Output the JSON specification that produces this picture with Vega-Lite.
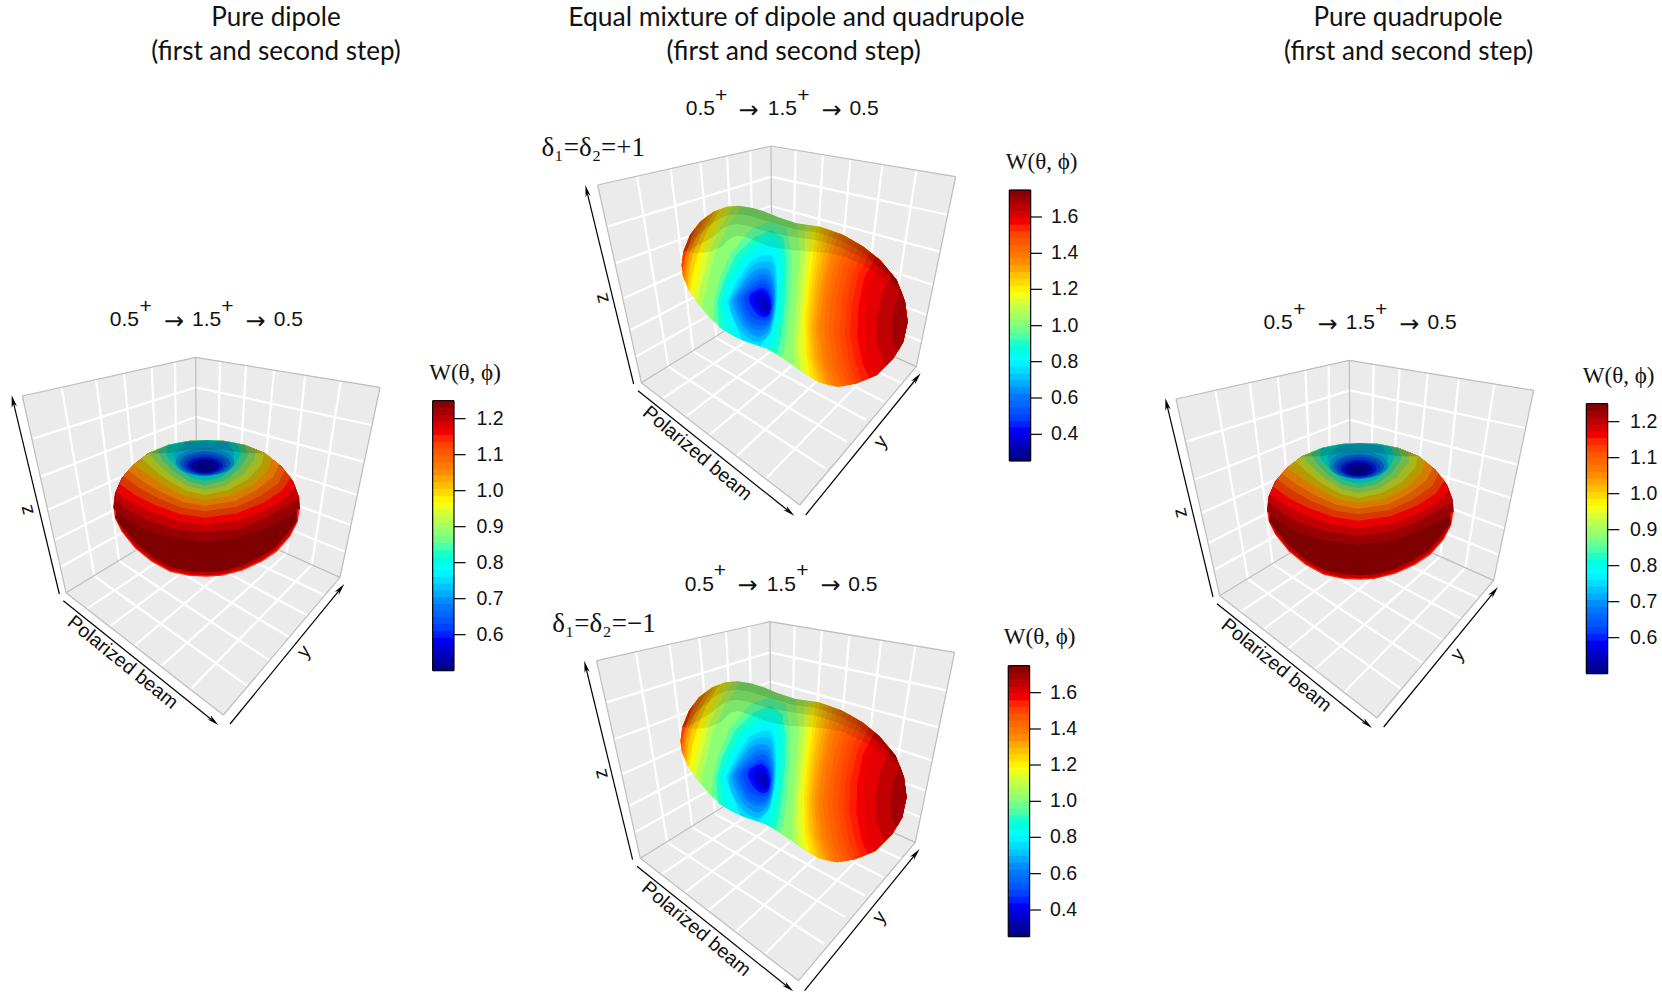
{"$schema":"https://vega.github.io/schema/vega-lite/v6.json","description":"Angular distributions W(theta,phi) for dipole, mixed and quadrupole steps","padding":0,"autosize":"none","width":1662,"height":1001,"background":"white","config":{"view":{"stroke":null}},
"datasets":{
"wall1":[{"x":67,"y":348},{"x":587,"y":232},{"x":1140,"y":322},{"x":1020,"y":892},{"x":670,"y":1305},{"x":198,"y":938}],
"wall2":[{"x":233,"y":315},{"x":753,"y":198},{"x":1307,"y":290},{"x":1189,"y":860},{"x":839,"y":1275},{"x":364,"y":908}],
"grid1":[{"x":185,"y":322,"x2":283,"y2":888},{"x":288,"y":297,"x2":357,"y2":843},{"x":372,"y":278,"x2":420,"y2":805},{"x":455,"y":260,"x2":478,"y2":770},{"x":525,"y":245,"x2":530,"y2":737},{"x":100,"y":475,"x2":587,"y2":322},{"x":122,"y":590,"x2":587,"y2":410},{"x":143,"y":690,"x2":588,"y2":490},{"x":165,"y":780,"x2":588,"y2":565},{"x":183,"y":860,"x2":589,"y2":635},{"x":660,"y":245,"x2":650,"y2":728},{"x":738,"y":258,"x2":710,"y2":755},{"x":822,"y":273,"x2":775,"y2":785},{"x":915,"y":290,"x2":860,"y2":820},{"x":1022,"y":305,"x2":935,"y2":855},{"x":587,"y":322,"x2":1115,"y2":435},{"x":587,"y":410,"x2":1090,"y2":545},{"x":588,"y":490,"x2":1072,"y2":645},{"x":588,"y":565,"x2":1052,"y2":735},{"x":589,"y":635,"x2":1035,"y2":815},{"x":283,"y":888,"x2":743,"y2":1218},{"x":357,"y":843,"x2":810,"y2":1142},{"x":420,"y":805,"x2":869,"y2":1072},{"x":478,"y":770,"x2":924,"y2":1007},{"x":530,"y":737,"x2":973,"y2":945},{"x":262,"y":985,"x2":650,"y2":728},{"x":328,"y":1040,"x2":710,"y2":755},{"x":402,"y":1098,"x2":775,"y2":785},{"x":482,"y":1160,"x2":860,"y2":820},{"x":572,"y":1228,"x2":935,"y2":855}],
"grid2":[{"x":351,"y":290,"x2":445,"y2":860},{"x":452,"y":268,"x2":520,"y2":815},{"x":541,"y":248,"x2":589,"y2":775},{"x":621,"y":228,"x2":648,"y2":738},{"x":691,"y":212,"x2":702,"y2":700},{"x":262,"y":440,"x2":753,"y2":290},{"x":287,"y":550,"x2":753,"y2":378},{"x":311,"y":655,"x2":754,"y2":455},{"x":332,"y":750,"x2":754,"y2":530},{"x":348,"y":830,"x2":755,"y2":600},{"x":827,"y":212,"x2":816,"y2":690},{"x":909,"y":225,"x2":879,"y2":715},{"x":991,"y":240,"x2":948,"y2":745},{"x":1087,"y":255,"x2":1023,"y2":780},{"x":1189,"y":272,"x2":1104,"y2":820},{"x":753,"y":290,"x2":1286,"y2":405},{"x":753,"y":378,"x2":1259,"y2":515},{"x":754,"y":455,"x2":1240,"y2":615},{"x":754,"y":530,"x2":1221,"y2":705},{"x":755,"y":600,"x2":1205,"y2":785},{"x":445,"y":860,"x2":916,"y2":1165},{"x":520,"y":815,"x2":980,"y2":1085},{"x":589,"y":775,"x2":1039,"y2":1020},{"x":648,"y":738,"x2":1093,"y2":965},{"x":702,"y":700,"x2":1146,"y2":910},{"x":429,"y":955,"x2":816,"y2":690},{"x":498,"y":1010,"x2":879,"y2":715},{"x":568,"y":1065,"x2":948,"y2":745},{"x":648,"y":1130,"x2":1023,"y2":780},{"x":739,"y":1195,"x2":1104,"y2":820}],
"edge1":[{"x":67,"y":348,"x2":587,"y2":232},{"x":587,"y":232,"x2":1140,"y2":322},{"x":67,"y":348,"x2":198,"y2":938},{"x":1140,"y":322,"x2":1020,"y2":892},{"x":198,"y":938,"x2":670,"y2":1305},{"x":1020,"y":892,"x2":670,"y2":1305},{"x":587,"y":232,"x2":590,"y2":700},{"x":590,"y":700,"x2":198,"y2":938},{"x":590,"y":700,"x2":1020,"y2":892}],
"edge2":[{"x":233,"y":315,"x2":753,"y2":198},{"x":753,"y":198,"x2":1307,"y2":290},{"x":233,"y":315,"x2":364,"y2":908},{"x":1307,"y":290,"x2":1189,"y2":860},{"x":364,"y":908,"x2":839,"y2":1275},{"x":1189,"y":860,"x2":839,"y2":1275},{"x":753,"y":198,"x2":756,"y2":665},{"x":756,"y":665,"x2":364,"y2":908},{"x":756,"y":665,"x2":1189,"y2":860}],
"ink1":[{"x":178,"y":942,"x2":41,"y2":371},{"x":690,"y":1332,"x2":1017,"y2":932},{"x":190,"y":962,"x2":635,"y2":1319},{"x":1362,"y":416,"x2":1397,"y2":416},{"x":1362,"y":524,"x2":1397,"y2":524},{"x":1362,"y":632,"x2":1397,"y2":632},{"x":1362,"y":740,"x2":1397,"y2":740},{"x":1362,"y":848,"x2":1397,"y2":848},{"x":1362,"y":956,"x2":1397,"y2":956},{"x":1362,"y":1064,"x2":1397,"y2":1064},{"x":1298,"y":362,"x2":1362,"y2":362},{"x":1298,"y":1172,"x2":1362,"y2":1172},{"x":1298,"y":362,"x2":1298,"y2":1172},{"x":1362,"y":362,"x2":1362,"y2":1172}],
"ink2":[{"x":341,"y":912,"x2":202,"y2":340},{"x":857,"y":1305,"x2":1186,"y2":900},{"x":354,"y":932,"x2":803,"y2":1291},{"x":1532,"y":411,"x2":1566,"y2":411},{"x":1532,"y":520,"x2":1566,"y2":520},{"x":1532,"y":628,"x2":1566,"y2":628},{"x":1532,"y":737,"x2":1566,"y2":737},{"x":1532,"y":845,"x2":1566,"y2":845},{"x":1532,"y":954,"x2":1566,"y2":954},{"x":1532,"y":1063,"x2":1566,"y2":1063},{"x":1468,"y":330,"x2":1532,"y2":330},{"x":1468,"y":1143,"x2":1532,"y2":1143},{"x":1468,"y":330,"x2":1468,"y2":1143},{"x":1532,"y":330,"x2":1532,"y2":1143}],
"head1":[{"g":1,"x":35,"y":346},{"g":1,"x":51,"y":379},{"g":1,"x":41,"y":371},{"g":1,"x":35,"y":383},{"g":2,"x":1033,"y":912},{"g":2,"x":1016,"y":945},{"g":2,"x":1017,"y":932},{"g":2,"x":1004,"y":935},{"g":3,"x":655,"y":1335},{"g":3,"x":632,"y":1306},{"g":3,"x":635,"y":1319},{"g":3,"x":622,"y":1318}],
"head2":[{"g":1,"x":196,"y":315},{"g":1,"x":212,"y":348},{"g":1,"x":202,"y":340},{"g":1,"x":197,"y":352},{"g":2,"x":1202,"y":880},{"g":2,"x":1185,"y":913},{"g":2,"x":1186,"y":900},{"g":2,"x":1173,"y":903},{"g":3,"x":823,"y":1307},{"g":3,"x":800,"y":1278},{"g":3,"x":803,"y":1291},{"g":3,"x":790,"y":1290}],
"lab1":[{"t":"1.2","x":1470,"y":416},{"t":"1.1","x":1470,"y":524},{"t":"1.0","x":1470,"y":632},{"t":"0.9","x":1470,"y":740},{"t":"0.8","x":1470,"y":848},{"t":"0.7","x":1470,"y":956},{"t":"0.6","x":1470,"y":1064},{"t":"z","x":80,"y":690,"a":256},{"t":"Polarized beam","x":368,"y":1147,"a":39},{"t":"y","x":912,"y":1115,"a":310}],
"lab2":[{"t":"1.6","x":1634,"y":411},{"t":"1.4","x":1634,"y":520},{"t":"1.2","x":1634,"y":628},{"t":"1.0","x":1634,"y":737},{"t":"0.8","x":1634,"y":845},{"t":"0.6","x":1634,"y":954},{"t":"0.4","x":1634,"y":1063},{"t":"z","x":246,"y":655,"a":256},{"t":"Polarized beam","x":532,"y":1120,"a":40},{"t":"y","x":1082,"y":1085,"a":308}],
"step1":[{"t":"0.5","x":373,"y":120},{"t":"+","x":437,"y":80},{"t":"1.5","x":620,"y":120},{"t":"+","x":682,"y":80},{"t":"0.5","x":865,"y":120}],
"arrow1":[{"t":"→","x":522,"y":125},{"t":"→","x":767,"y":125}],
"step2":[{"t":"0.5","x":541,"y":87},{"t":"+","x":603,"y":47},{"t":"1.5","x":787,"y":87},{"t":"+","x":850,"y":47},{"t":"0.5","x":1032,"y":87}],
"arrow2":[{"t":"→","x":686,"y":92},{"t":"→","x":935,"y":92}],
"wlab1":[{"t":"W(θ, ϕ)","x":1395,"y":278}],
"bar1":[{"w":0.509,"x":1298,"x2":1362,"y":1152,"y2":1172},{"w":0.528,"x":1298,"x2":1362,"y":1132,"y2":1154},{"w":0.547,"x":1298,"x2":1362,"y":1111,"y2":1134},{"w":0.566,"x":1298,"x2":1362,"y":1091,"y2":1113},{"w":0.584,"x":1298,"x2":1362,"y":1071,"y2":1093},{"w":0.603,"x":1298,"x2":1362,"y":1051,"y2":1073},{"w":0.622,"x":1298,"x2":1362,"y":1030,"y2":1053},{"w":0.641,"x":1298,"x2":1362,"y":1010,"y2":1032},{"w":0.659,"x":1298,"x2":1362,"y":990,"y2":1012},{"w":0.678,"x":1298,"x2":1362,"y":970,"y2":992},{"w":0.697,"x":1298,"x2":1362,"y":949,"y2":972},{"w":0.716,"x":1298,"x2":1362,"y":929,"y2":951},{"w":0.734,"x":1298,"x2":1362,"y":909,"y2":931},{"w":0.753,"x":1298,"x2":1362,"y":889,"y2":911},{"w":0.772,"x":1298,"x2":1362,"y":868,"y2":891},{"w":0.791,"x":1298,"x2":1362,"y":848,"y2":870},{"w":0.809,"x":1298,"x2":1362,"y":828,"y2":850},{"w":0.828,"x":1298,"x2":1362,"y":808,"y2":830},{"w":0.847,"x":1298,"x2":1362,"y":787,"y2":810},{"w":0.866,"x":1298,"x2":1362,"y":767,"y2":789},{"w":0.884,"x":1298,"x2":1362,"y":747,"y2":769},{"w":0.903,"x":1298,"x2":1362,"y":727,"y2":749},{"w":0.922,"x":1298,"x2":1362,"y":706,"y2":729},{"w":0.941,"x":1298,"x2":1362,"y":686,"y2":708},{"w":0.959,"x":1298,"x2":1362,"y":666,"y2":688},{"w":0.978,"x":1298,"x2":1362,"y":646,"y2":668},{"w":0.997,"x":1298,"x2":1362,"y":625,"y2":648},{"w":1.016,"x":1298,"x2":1362,"y":605,"y2":627},{"w":1.034,"x":1298,"x2":1362,"y":585,"y2":607},{"w":1.053,"x":1298,"x2":1362,"y":565,"y2":587},{"w":1.072,"x":1298,"x2":1362,"y":544,"y2":567},{"w":1.091,"x":1298,"x2":1362,"y":524,"y2":546},{"w":1.109,"x":1298,"x2":1362,"y":504,"y2":526},{"w":1.128,"x":1298,"x2":1362,"y":484,"y2":506},{"w":1.147,"x":1298,"x2":1362,"y":463,"y2":486},{"w":1.166,"x":1298,"x2":1362,"y":443,"y2":465},{"w":1.184,"x":1298,"x2":1362,"y":423,"y2":445},{"w":1.203,"x":1298,"x2":1362,"y":403,"y2":425},{"w":1.222,"x":1298,"x2":1362,"y":382,"y2":405},{"w":1.241,"x":1298,"x2":1362,"y":362,"y2":384}],
"bar2":[{"w":0.269,"x":1468,"x2":1532,"y":1123,"y2":1143},{"w":0.306,"x":1468,"x2":1532,"y":1102,"y2":1125},{"w":0.344,"x":1468,"x2":1532,"y":1082,"y2":1104},{"w":0.381,"x":1468,"x2":1532,"y":1062,"y2":1084},{"w":0.419,"x":1468,"x2":1532,"y":1041,"y2":1064},{"w":0.456,"x":1468,"x2":1532,"y":1021,"y2":1043},{"w":0.494,"x":1468,"x2":1532,"y":1001,"y2":1023},{"w":0.531,"x":1468,"x2":1532,"y":980,"y2":1003},{"w":0.569,"x":1468,"x2":1532,"y":960,"y2":982},{"w":0.606,"x":1468,"x2":1532,"y":940,"y2":962},{"w":0.644,"x":1468,"x2":1532,"y":919,"y2":942},{"w":0.681,"x":1468,"x2":1532,"y":899,"y2":921},{"w":0.719,"x":1468,"x2":1532,"y":879,"y2":901},{"w":0.756,"x":1468,"x2":1532,"y":858,"y2":881},{"w":0.794,"x":1468,"x2":1532,"y":838,"y2":860},{"w":0.831,"x":1468,"x2":1532,"y":818,"y2":840},{"w":0.869,"x":1468,"x2":1532,"y":797,"y2":820},{"w":0.906,"x":1468,"x2":1532,"y":777,"y2":799},{"w":0.944,"x":1468,"x2":1532,"y":757,"y2":779},{"w":0.981,"x":1468,"x2":1532,"y":737,"y2":759},{"w":1.019,"x":1468,"x2":1532,"y":716,"y2":739},{"w":1.056,"x":1468,"x2":1532,"y":696,"y2":718},{"w":1.094,"x":1468,"x2":1532,"y":676,"y2":698},{"w":1.131,"x":1468,"x2":1532,"y":655,"y2":678},{"w":1.169,"x":1468,"x2":1532,"y":635,"y2":657},{"w":1.206,"x":1468,"x2":1532,"y":615,"y2":637},{"w":1.244,"x":1468,"x2":1532,"y":594,"y2":617},{"w":1.281,"x":1468,"x2":1532,"y":574,"y2":596},{"w":1.319,"x":1468,"x2":1532,"y":554,"y2":576},{"w":1.356,"x":1468,"x2":1532,"y":533,"y2":556},{"w":1.394,"x":1468,"x2":1532,"y":513,"y2":535},{"w":1.431,"x":1468,"x2":1532,"y":493,"y2":515},{"w":1.469,"x":1468,"x2":1532,"y":472,"y2":495},{"w":1.506,"x":1468,"x2":1532,"y":452,"y2":474},{"w":1.544,"x":1468,"x2":1532,"y":432,"y2":454},{"w":1.581,"x":1468,"x2":1532,"y":411,"y2":434},{"w":1.619,"x":1468,"x2":1532,"y":391,"y2":413},{"w":1.656,"x":1468,"x2":1532,"y":371,"y2":393},{"w":1.694,"x":1468,"x2":1532,"y":350,"y2":373},{"w":1.731,"x":1468,"x2":1532,"y":330,"y2":352}],
"torus":[
{"g":1,"w":1.15,"x":340,"y":680},{"g":1,"w":1.15,"x":345,"y":640},{"g":1,"w":1.15,"x":365,"y":595},{"g":1,"w":1.15,"x":400,"y":555},{"g":1,"w":1.15,"x":445,"y":520},{"g":1,"w":1.15,"x":505,"y":495},{"g":1,"w":1.15,"x":565,"y":483},{"g":1,"w":1.15,"x":620,"y":480},{"g":1,"w":1.15,"x":675,"y":483},{"g":1,"w":1.15,"x":735,"y":495},{"g":1,"w":1.15,"x":795,"y":520},{"g":1,"w":1.15,"x":845,"y":560},{"g":1,"w":1.15,"x":880,"y":605},{"g":1,"w":1.15,"x":897,"y":650},{"g":1,"w":1.15,"x":900,"y":685},{"g":1,"w":1.15,"x":893,"y":725},{"g":1,"w":1.15,"x":870,"y":770},{"g":1,"w":1.15,"x":830,"y":815},{"g":1,"w":1.15,"x":785,"y":845},{"g":1,"w":1.15,"x":725,"y":872},{"g":1,"w":1.15,"x":665,"y":887},{"g":1,"w":1.15,"x":620,"y":890},{"g":1,"w":1.15,"x":565,"y":887},{"g":1,"w":1.15,"x":510,"y":875},{"g":1,"w":1.15,"x":455,"y":845},{"g":1,"w":1.15,"x":405,"y":805},{"g":1,"w":1.15,"x":365,"y":755},{"g":1,"w":1.15,"x":345,"y":715},
{"g":2,"w":1.2,"x":352,"y":650},{"g":2,"w":1.2,"x":620,"y":610},{"g":2,"w":1.2,"x":888,"y":655},{"g":2,"w":1.2,"x":892,"y":724},{"g":2,"w":1.2,"x":867,"y":768},{"g":2,"w":1.2,"x":827,"y":811},{"g":2,"w":1.2,"x":783,"y":841},{"g":2,"w":1.2,"x":724,"y":868},{"g":2,"w":1.2,"x":665,"y":883},{"g":2,"w":1.2,"x":620,"y":886},{"g":2,"w":1.2,"x":565,"y":883},{"g":2,"w":1.2,"x":511,"y":871},{"g":2,"w":1.2,"x":457,"y":841},{"g":2,"w":1.2,"x":407,"y":802},{"g":2,"w":1.2,"x":367,"y":752},{"g":2,"w":1.2,"x":346,"y":714},
{"g":3,"w":1.25,"x":352,"y":650},{"g":3,"w":1.25,"x":620,"y":610},{"g":3,"w":1.25,"x":888,"y":655},{"g":3,"w":1.25,"x":890,"y":721},{"g":3,"w":1.25,"x":862,"y":760},{"g":3,"w":1.25,"x":823,"y":803},{"g":3,"w":1.25,"x":779,"y":832},{"g":3,"w":1.25,"x":722,"y":859},{"g":3,"w":1.25,"x":665,"y":874},{"g":3,"w":1.25,"x":620,"y":877},{"g":3,"w":1.25,"x":566,"y":874},{"g":3,"w":1.25,"x":513,"y":862},{"g":3,"w":1.25,"x":460,"y":833},{"g":3,"w":1.25,"x":412,"y":794},{"g":3,"w":1.25,"x":370,"y":747},{"g":3,"w":1.25,"x":347,"y":712},
{"g":4,"w":1.23,"x":340,"y":685},{"g":4,"w":1.23,"x":375,"y":715},{"g":4,"w":1.23,"x":435,"y":750},{"g":4,"w":1.23,"x":515,"y":772},{"g":4,"w":1.23,"x":615,"y":785},{"g":4,"w":1.23,"x":715,"y":772},{"g":4,"w":1.23,"x":795,"y":745},{"g":4,"w":1.23,"x":860,"y":712},{"g":4,"w":1.23,"x":900,"y":685},{"g":4,"w":1.23,"x":897,"y":650},{"g":4,"w":1.23,"x":880,"y":605},{"g":4,"w":1.23,"x":845,"y":560},{"g":4,"w":1.23,"x":795,"y":520},{"g":4,"w":1.23,"x":735,"y":495},{"g":4,"w":1.23,"x":675,"y":483},{"g":4,"w":1.23,"x":620,"y":480},{"g":4,"w":1.23,"x":565,"y":483},{"g":4,"w":1.23,"x":505,"y":495},{"g":4,"w":1.23,"x":445,"y":520},{"g":4,"w":1.23,"x":400,"y":555},{"g":4,"w":1.23,"x":365,"y":595},{"g":4,"w":1.23,"x":345,"y":640},
{"g":5,"w":1.2,"x":342,"y":655},{"g":5,"w":1.2,"x":385,"y":690},{"g":5,"w":1.2,"x":445,"y":722},{"g":5,"w":1.2,"x":525,"y":747},{"g":5,"w":1.2,"x":615,"y":758},{"g":5,"w":1.2,"x":715,"y":746},{"g":5,"w":1.2,"x":795,"y":715},{"g":5,"w":1.2,"x":860,"y":678},{"g":5,"w":1.2,"x":898,"y":655},{"g":5,"w":1.2,"x":880,"y":605},{"g":5,"w":1.2,"x":845,"y":560},{"g":5,"w":1.2,"x":795,"y":520},{"g":5,"w":1.2,"x":735,"y":495},{"g":5,"w":1.2,"x":675,"y":483},{"g":5,"w":1.2,"x":620,"y":480},{"g":5,"w":1.2,"x":565,"y":483},{"g":5,"w":1.2,"x":505,"y":495},{"g":5,"w":1.2,"x":445,"y":520},{"g":5,"w":1.2,"x":400,"y":555},{"g":5,"w":1.2,"x":365,"y":595},
{"g":6,"w":1.17,"x":347,"y":635},{"g":6,"w":1.17,"x":395,"y":667},{"g":6,"w":1.17,"x":455,"y":697},{"g":6,"w":1.17,"x":535,"y":724},{"g":6,"w":1.17,"x":615,"y":735},{"g":6,"w":1.17,"x":715,"y":722},{"g":6,"w":1.17,"x":795,"y":690},{"g":6,"w":1.17,"x":855,"y":655},{"g":6,"w":1.17,"x":887,"y":620},{"g":6,"w":1.17,"x":845,"y":560},{"g":6,"w":1.17,"x":795,"y":520},{"g":6,"w":1.17,"x":735,"y":495},{"g":6,"w":1.17,"x":675,"y":483},{"g":6,"w":1.17,"x":620,"y":480},{"g":6,"w":1.17,"x":565,"y":483},{"g":6,"w":1.17,"x":505,"y":495},{"g":6,"w":1.17,"x":445,"y":520},{"g":6,"w":1.17,"x":400,"y":555},{"g":6,"w":1.17,"x":365,"y":595},
{"g":7,"w":1.13,"x":357,"y":610},{"g":7,"w":1.13,"x":405,"y":645},{"g":7,"w":1.13,"x":465,"y":675},{"g":7,"w":1.13,"x":540,"y":702},{"g":7,"w":1.13,"x":615,"y":713},{"g":7,"w":1.13,"x":710,"y":700},{"g":7,"w":1.13,"x":790,"y":668},{"g":7,"w":1.13,"x":845,"y":632},{"g":7,"w":1.13,"x":873,"y":593},{"g":7,"w":1.13,"x":845,"y":560},{"g":7,"w":1.13,"x":795,"y":520},{"g":7,"w":1.13,"x":735,"y":495},{"g":7,"w":1.13,"x":675,"y":483},{"g":7,"w":1.13,"x":620,"y":480},{"g":7,"w":1.13,"x":565,"y":483},{"g":7,"w":1.13,"x":505,"y":495},{"g":7,"w":1.13,"x":445,"y":520},{"g":7,"w":1.13,"x":400,"y":555},{"g":7,"w":1.13,"x":375,"y":583},
{"g":8,"w":1.09,"x":370,"y":588},{"g":8,"w":1.09,"x":415,"y":622},{"g":8,"w":1.09,"x":475,"y":655},{"g":8,"w":1.09,"x":545,"y":683},{"g":8,"w":1.09,"x":615,"y":694},{"g":8,"w":1.09,"x":710,"y":680},{"g":8,"w":1.09,"x":780,"y":648},{"g":8,"w":1.09,"x":835,"y":610},{"g":8,"w":1.09,"x":855,"y":570},{"g":8,"w":1.09,"x":795,"y":520},{"g":8,"w":1.09,"x":735,"y":495},{"g":8,"w":1.09,"x":675,"y":483},{"g":8,"w":1.09,"x":620,"y":480},{"g":8,"w":1.09,"x":565,"y":483},{"g":8,"w":1.09,"x":505,"y":495},{"g":8,"w":1.09,"x":445,"y":520},{"g":8,"w":1.09,"x":405,"y":550},
{"g":9,"w":1.05,"x":383,"y":570},{"g":9,"w":1.05,"x":430,"y":605},{"g":9,"w":1.05,"x":485,"y":637},{"g":9,"w":1.05,"x":550,"y":666},{"g":9,"w":1.05,"x":615,"y":677},{"g":9,"w":1.05,"x":705,"y":663},{"g":9,"w":1.05,"x":770,"y":630},{"g":9,"w":1.05,"x":820,"y":590},{"g":9,"w":1.05,"x":837,"y":553},{"g":9,"w":1.05,"x":795,"y":520},{"g":9,"w":1.05,"x":735,"y":495},{"g":9,"w":1.05,"x":675,"y":483},{"g":9,"w":1.05,"x":620,"y":480},{"g":9,"w":1.05,"x":565,"y":483},{"g":9,"w":1.05,"x":505,"y":495},{"g":9,"w":1.05,"x":445,"y":520},
{"g":10,"w":1.0,"x":400,"y":555},{"g":10,"w":1.0,"x":445,"y":585},{"g":10,"w":1.0,"x":495,"y":618},{"g":10,"w":1.0,"x":555,"y":648},{"g":10,"w":1.0,"x":615,"y":660},{"g":10,"w":1.0,"x":695,"y":646},{"g":10,"w":1.0,"x":760,"y":613},{"g":10,"w":1.0,"x":805,"y":570},{"g":10,"w":1.0,"x":815,"y":535},{"g":10,"w":1.0,"x":795,"y":520},{"g":10,"w":1.0,"x":735,"y":495},{"g":10,"w":1.0,"x":675,"y":483},{"g":10,"w":1.0,"x":620,"y":480},{"g":10,"w":1.0,"x":565,"y":483},{"g":10,"w":1.0,"x":505,"y":495},{"g":10,"w":1.0,"x":445,"y":520},
{"g":11,"w":0.95,"x":425,"y":535},{"g":11,"w":0.95,"x":460,"y":568},{"g":11,"w":0.95,"x":505,"y":602},{"g":11,"w":0.95,"x":560,"y":632},{"g":11,"w":0.95,"x":615,"y":645},{"g":11,"w":0.95,"x":685,"y":630},{"g":11,"w":0.95,"x":745,"y":598},{"g":11,"w":0.95,"x":785,"y":552},{"g":11,"w":0.95,"x":793,"y":520},{"g":11,"w":0.95,"x":735,"y":495},{"g":11,"w":0.95,"x":675,"y":483},{"g":11,"w":0.95,"x":620,"y":480},{"g":11,"w":0.95,"x":565,"y":483},{"g":11,"w":0.95,"x":505,"y":495},{"g":11,"w":0.95,"x":460,"y":513},
{"g":12,"w":0.9,"x":445,"y":520},{"g":12,"w":0.9,"x":475,"y":553},{"g":12,"w":0.9,"x":515,"y":588},{"g":12,"w":0.9,"x":565,"y":618},{"g":12,"w":0.9,"x":615,"y":630},{"g":12,"w":0.9,"x":675,"y":617},{"g":12,"w":0.9,"x":730,"y":583},{"g":12,"w":0.9,"x":765,"y":538},{"g":12,"w":0.9,"x":765,"y":508},{"g":12,"w":0.9,"x":735,"y":495},{"g":12,"w":0.9,"x":675,"y":483},{"g":12,"w":0.9,"x":620,"y":480},{"g":12,"w":0.9,"x":565,"y":483},{"g":12,"w":0.9,"x":505,"y":495},
{"g":13,"w":0.85,"x":470,"y":507},{"g":13,"w":0.85,"x":487,"y":540},{"g":13,"w":0.85,"x":523,"y":575},{"g":13,"w":0.85,"x":567,"y":605},{"g":13,"w":0.85,"x":615,"y":616},{"g":13,"w":0.85,"x":670,"y":603},{"g":13,"w":0.85,"x":715,"y":570},{"g":13,"w":0.85,"x":743,"y":528},{"g":13,"w":0.85,"x":735,"y":495},{"g":13,"w":0.85,"x":675,"y":483},{"g":13,"w":0.85,"x":620,"y":480},{"g":13,"w":0.85,"x":565,"y":483},{"g":13,"w":0.85,"x":505,"y":495},
{"g":14,"w":0.8,"x":500,"y":496},{"g":14,"w":0.8,"x":500,"y":528},{"g":14,"w":0.8,"x":530,"y":562},{"g":14,"w":0.8,"x":570,"y":592},{"g":14,"w":0.8,"x":615,"y":603},{"g":14,"w":0.8,"x":665,"y":591},{"g":14,"w":0.8,"x":703,"y":560},{"g":14,"w":0.8,"x":723,"y":522},{"g":14,"w":0.8,"x":710,"y":490},{"g":14,"w":0.8,"x":675,"y":483},{"g":14,"w":0.8,"x":620,"y":480},{"g":14,"w":0.8,"x":565,"y":483},{"g":14,"w":0.8,"x":530,"y":488},
{"g":15,"w":0.75,"x":518,"y":525},{"g":15,"w":0.75,"x":537,"y":553},{"g":15,"w":0.75,"x":573,"y":580},{"g":15,"w":0.75,"x":615,"y":590},{"g":15,"w":0.75,"x":660,"y":580},{"g":15,"w":0.75,"x":693,"y":552},{"g":15,"w":0.75,"x":705,"y":522},{"g":15,"w":0.75,"x":685,"y":487},{"g":15,"w":0.75,"x":620,"y":483},{"g":15,"w":0.75,"x":555,"y":487},
{"g":16,"w":0.72,"x":527,"y":546},{"g":16,"w":0.72,"x":553,"y":516},{"g":16,"w":0.72,"x":615,"y":504},{"g":16,"w":0.72,"x":677,"y":516},{"g":16,"w":0.72,"x":703,"y":546},{"g":16,"w":0.72,"x":677,"y":576},{"g":16,"w":0.72,"x":615,"y":588},{"g":16,"w":0.72,"x":553,"y":576},
{"g":17,"w":0.68,"x":539,"y":550},{"g":17,"w":0.68,"x":561,"y":525},{"g":17,"w":0.68,"x":615,"y":514},{"g":17,"w":0.68,"x":669,"y":525},{"g":17,"w":0.68,"x":691,"y":550},{"g":17,"w":0.68,"x":669,"y":575},{"g":17,"w":0.68,"x":615,"y":586},{"g":17,"w":0.68,"x":561,"y":575},
{"g":18,"w":0.64,"x":550,"y":553},{"g":18,"w":0.64,"x":569,"y":531},{"g":18,"w":0.64,"x":615,"y":522},{"g":18,"w":0.64,"x":661,"y":531},{"g":18,"w":0.64,"x":680,"y":553},{"g":18,"w":0.64,"x":661,"y":575},{"g":18,"w":0.64,"x":615,"y":584},{"g":18,"w":0.64,"x":569,"y":575},
{"g":19,"w":0.6,"x":561,"y":556},{"g":19,"w":0.6,"x":577,"y":538},{"g":19,"w":0.6,"x":615,"y":530},{"g":19,"w":0.6,"x":653,"y":538},{"g":19,"w":0.6,"x":669,"y":556},{"g":19,"w":0.6,"x":653,"y":574},{"g":19,"w":0.6,"x":615,"y":582},{"g":19,"w":0.6,"x":577,"y":574},
{"g":20,"w":0.56,"x":573,"y":558},{"g":20,"w":0.56,"x":585,"y":544},{"g":20,"w":0.56,"x":615,"y":538},{"g":20,"w":0.56,"x":645,"y":544},{"g":20,"w":0.56,"x":657,"y":558},{"g":20,"w":0.56,"x":645,"y":572},{"g":20,"w":0.56,"x":615,"y":578},{"g":20,"w":0.56,"x":585,"y":572},
{"g":21,"w":0.53,"x":587,"y":560},{"g":21,"w":0.53,"x":595,"y":550},{"g":21,"w":0.53,"x":615,"y":546},{"g":21,"w":0.53,"x":635,"y":550},{"g":21,"w":0.53,"x":643,"y":560},{"g":21,"w":0.53,"x":635,"y":570},{"g":21,"w":0.53,"x":615,"y":574},{"g":21,"w":0.53,"x":595,"y":570}],
"shade1":[
{"g":1,"x":357,"y":610},{"g":1,"x":405,"y":645},{"g":1,"x":465,"y":675},{"g":1,"x":540,"y":702},{"g":1,"x":615,"y":713},{"g":1,"x":710,"y":700},{"g":1,"x":790,"y":668},{"g":1,"x":845,"y":632},{"g":1,"x":873,"y":593},{"g":1,"x":845,"y":560},{"g":1,"x":795,"y":520},{"g":1,"x":735,"y":495},{"g":1,"x":675,"y":483},{"g":1,"x":620,"y":480},{"g":1,"x":565,"y":483},{"g":1,"x":505,"y":495},{"g":1,"x":445,"y":520},{"g":1,"x":400,"y":555},{"g":1,"x":375,"y":583},
{"g":2,"x":400,"y":555},{"g":2,"x":445,"y":585},{"g":2,"x":495,"y":618},{"g":2,"x":555,"y":648},{"g":2,"x":615,"y":660},{"g":2,"x":695,"y":646},{"g":2,"x":760,"y":613},{"g":2,"x":805,"y":570},{"g":2,"x":815,"y":535},{"g":2,"x":795,"y":520},{"g":2,"x":735,"y":495},{"g":2,"x":675,"y":483},{"g":2,"x":620,"y":480},{"g":2,"x":565,"y":483},{"g":2,"x":505,"y":495},{"g":2,"x":445,"y":520},
{"g":3,"x":445,"y":520},{"g":3,"x":505,"y":520},{"g":3,"x":565,"y":510},{"g":3,"x":620,"y":507},{"g":3,"x":675,"y":510},{"g":3,"x":735,"y":520},{"g":3,"x":795,"y":520},{"g":3,"x":735,"y":495},{"g":3,"x":675,"y":483},{"g":3,"x":620,"y":480},{"g":3,"x":565,"y":483},{"g":3,"x":505,"y":495}],
"peanut":[
{"g":1,"w":1.02,"x":485,"y":555},{"g":1,"w":1.02,"x":490,"y":515},{"g":1,"w":1.02,"x":510,"y":465},{"g":1,"w":1.02,"x":540,"y":425},{"g":1,"w":1.02,"x":580,"y":395},{"g":1,"w":1.02,"x":620,"y":380},{"g":1,"w":1.02,"x":655,"y":377},{"g":1,"w":1.02,"x":695,"y":383},{"g":1,"w":1.02,"x":735,"y":395},{"g":1,"w":1.02,"x":775,"y":412},{"g":1,"w":1.02,"x":830,"y":430},{"g":1,"w":1.02,"x":900,"y":440},{"g":1,"w":1.02,"x":970,"y":465},{"g":1,"w":1.02,"x":1030,"y":500},{"g":1,"w":1.02,"x":1080,"y":540},{"g":1,"w":1.02,"x":1130,"y":600},{"g":1,"w":1.02,"x":1155,"y":665},{"g":1,"w":1.02,"x":1163,"y":725},{"g":1,"w":1.02,"x":1150,"y":785},{"g":1,"w":1.02,"x":1120,"y":835},{"g":1,"w":1.02,"x":1070,"y":885},{"g":1,"w":1.02,"x":1010,"y":910},{"g":1,"w":1.02,"x":955,"y":920},{"g":1,"w":1.02,"x":900,"y":908},{"g":1,"w":1.02,"x":850,"y":878},{"g":1,"w":1.02,"x":795,"y":840},{"g":1,"w":1.02,"x":740,"y":805},{"g":1,"w":1.02,"x":680,"y":785},{"g":1,"w":1.02,"x":620,"y":755},{"g":1,"w":1.02,"x":570,"y":715},{"g":1,"w":1.02,"x":530,"y":665},{"g":1,"w":1.02,"x":500,"y":615},{"g":1,"w":1.02,"x":488,"y":585},
{"g":2,"w":1.08,"x":830,"y":431},{"g":2,"w":1.08,"x":840,"y":525},{"g":2,"w":1.08,"x":832,"y":625},{"g":2,"w":1.08,"x":825,"y":715},{"g":2,"w":1.08,"x":820,"y":800},{"g":2,"w":1.08,"x":822,"y":855},{"g":2,"w":1.08,"x":850,"y":878},{"g":2,"w":1.08,"x":900,"y":908},{"g":2,"w":1.08,"x":955,"y":920},{"g":2,"w":1.08,"x":1010,"y":910},{"g":2,"w":1.08,"x":1070,"y":885},{"g":2,"w":1.08,"x":1120,"y":835},{"g":2,"w":1.08,"x":1150,"y":785},{"g":2,"w":1.08,"x":1163,"y":725},{"g":2,"w":1.08,"x":1155,"y":665},{"g":2,"w":1.08,"x":1130,"y":600},{"g":2,"w":1.08,"x":1080,"y":540},{"g":2,"w":1.08,"x":1030,"y":500},{"g":2,"w":1.08,"x":970,"y":465},{"g":2,"w":1.08,"x":900,"y":440},
{"g":3,"w":1.14,"x":855,"y":436},{"g":3,"w":1.14,"x":855,"y":525},{"g":3,"w":1.14,"x":845,"y":625},{"g":3,"w":1.14,"x":838,"y":715},{"g":3,"w":1.14,"x":833,"y":805},{"g":3,"w":1.14,"x":840,"y":870},{"g":3,"w":1.14,"x":900,"y":908},{"g":3,"w":1.14,"x":955,"y":920},{"g":3,"w":1.14,"x":1010,"y":910},{"g":3,"w":1.14,"x":1070,"y":885},{"g":3,"w":1.14,"x":1120,"y":835},{"g":3,"w":1.14,"x":1150,"y":785},{"g":3,"w":1.14,"x":1163,"y":725},{"g":3,"w":1.14,"x":1155,"y":665},{"g":3,"w":1.14,"x":1130,"y":600},{"g":3,"w":1.14,"x":1080,"y":540},{"g":3,"w":1.14,"x":1030,"y":500},{"g":3,"w":1.14,"x":970,"y":465},{"g":3,"w":1.14,"x":900,"y":440},
{"g":4,"w":1.2,"x":878,"y":440},{"g":4,"w":1.2,"x":870,"y":525},{"g":4,"w":1.2,"x":858,"y":630},{"g":4,"w":1.2,"x":850,"y":725},{"g":4,"w":1.2,"x":850,"y":815},{"g":4,"w":1.2,"x":860,"y":884},{"g":4,"w":1.2,"x":900,"y":908},{"g":4,"w":1.2,"x":955,"y":920},{"g":4,"w":1.2,"x":1010,"y":910},{"g":4,"w":1.2,"x":1070,"y":885},{"g":4,"w":1.2,"x":1120,"y":835},{"g":4,"w":1.2,"x":1150,"y":785},{"g":4,"w":1.2,"x":1163,"y":725},{"g":4,"w":1.2,"x":1155,"y":665},{"g":4,"w":1.2,"x":1130,"y":600},{"g":4,"w":1.2,"x":1080,"y":540},{"g":4,"w":1.2,"x":1030,"y":500},{"g":4,"w":1.2,"x":970,"y":465},{"g":4,"w":1.2,"x":900,"y":440},
{"g":41,"w":1.23,"x":890,"y":440},{"g":41,"w":1.23,"x":879,"y":527},{"g":41,"w":1.23,"x":865,"y":632},{"g":41,"w":1.23,"x":856,"y":730},{"g":41,"w":1.23,"x":859,"y":820},{"g":41,"w":1.23,"x":872,"y":892},{"g":41,"w":1.23,"x":900,"y":908},{"g":41,"w":1.23,"x":955,"y":920},{"g":41,"w":1.23,"x":1010,"y":910},{"g":41,"w":1.23,"x":1070,"y":885},{"g":41,"w":1.23,"x":1120,"y":835},{"g":41,"w":1.23,"x":1150,"y":785},{"g":41,"w":1.23,"x":1163,"y":725},{"g":41,"w":1.23,"x":1155,"y":665},{"g":41,"w":1.23,"x":1130,"y":600},{"g":41,"w":1.23,"x":1080,"y":540},{"g":41,"w":1.23,"x":1030,"y":500},{"g":41,"w":1.23,"x":970,"y":465},{"g":41,"w":1.23,"x":900,"y":440},
{"g":5,"w":1.26,"x":903,"y":441},{"g":5,"w":1.26,"x":888,"y":530},{"g":5,"w":1.26,"x":872,"y":635},{"g":5,"w":1.26,"x":863,"y":735},{"g":5,"w":1.26,"x":868,"y":825},{"g":5,"w":1.26,"x":885,"y":899},{"g":5,"w":1.26,"x":900,"y":908},{"g":5,"w":1.26,"x":955,"y":920},{"g":5,"w":1.26,"x":1010,"y":910},{"g":5,"w":1.26,"x":1070,"y":885},{"g":5,"w":1.26,"x":1120,"y":835},{"g":5,"w":1.26,"x":1150,"y":785},{"g":5,"w":1.26,"x":1163,"y":725},{"g":5,"w":1.26,"x":1155,"y":665},{"g":5,"w":1.26,"x":1130,"y":600},{"g":5,"w":1.26,"x":1080,"y":540},{"g":5,"w":1.26,"x":1030,"y":500},{"g":5,"w":1.26,"x":970,"y":465},
{"g":42,"w":1.29,"x":916,"y":445},{"g":42,"w":1.29,"x":898,"y":532},{"g":42,"w":1.29,"x":880,"y":637},{"g":42,"w":1.29,"x":870,"y":740},{"g":42,"w":1.29,"x":876,"y":830},{"g":42,"w":1.29,"x":897,"y":906},{"g":42,"w":1.29,"x":955,"y":920},{"g":42,"w":1.29,"x":1010,"y":910},{"g":42,"w":1.29,"x":1070,"y":885},{"g":42,"w":1.29,"x":1120,"y":835},{"g":42,"w":1.29,"x":1150,"y":785},{"g":42,"w":1.29,"x":1163,"y":725},{"g":42,"w":1.29,"x":1155,"y":665},{"g":42,"w":1.29,"x":1130,"y":600},{"g":42,"w":1.29,"x":1080,"y":540},{"g":42,"w":1.29,"x":1030,"y":500},{"g":42,"w":1.29,"x":970,"y":465},
{"g":6,"w":1.32,"x":930,"y":450},{"g":6,"w":1.32,"x":908,"y":535},{"g":6,"w":1.32,"x":888,"y":640},{"g":6,"w":1.32,"x":878,"y":745},{"g":6,"w":1.32,"x":885,"y":835},{"g":6,"w":1.32,"x":910,"y":911},{"g":6,"w":1.32,"x":955,"y":920},{"g":6,"w":1.32,"x":1010,"y":910},{"g":6,"w":1.32,"x":1070,"y":885},{"g":6,"w":1.32,"x":1120,"y":835},{"g":6,"w":1.32,"x":1150,"y":785},{"g":6,"w":1.32,"x":1163,"y":725},{"g":6,"w":1.32,"x":1155,"y":665},{"g":6,"w":1.32,"x":1130,"y":600},{"g":6,"w":1.32,"x":1080,"y":540},{"g":6,"w":1.32,"x":1030,"y":500},{"g":6,"w":1.32,"x":970,"y":465},
{"g":43,"w":1.35,"x":944,"y":455},{"g":43,"w":1.35,"x":919,"y":538},{"g":43,"w":1.35,"x":898,"y":642},{"g":43,"w":1.35,"x":887,"y":745},{"g":43,"w":1.35,"x":896,"y":840},{"g":43,"w":1.35,"x":922,"y":914},{"g":43,"w":1.35,"x":955,"y":920},{"g":43,"w":1.35,"x":1010,"y":910},{"g":43,"w":1.35,"x":1070,"y":885},{"g":43,"w":1.35,"x":1120,"y":835},{"g":43,"w":1.35,"x":1150,"y":785},{"g":43,"w":1.35,"x":1163,"y":725},{"g":43,"w":1.35,"x":1155,"y":665},{"g":43,"w":1.35,"x":1130,"y":600},{"g":43,"w":1.35,"x":1080,"y":540},{"g":43,"w":1.35,"x":1030,"y":500},{"g":43,"w":1.35,"x":970,"y":465},
{"g":7,"w":1.38,"x":958,"y":460},{"g":7,"w":1.38,"x":930,"y":540},{"g":7,"w":1.38,"x":908,"y":645},{"g":7,"w":1.38,"x":897,"y":745},{"g":7,"w":1.38,"x":908,"y":845},{"g":7,"w":1.38,"x":935,"y":917},{"g":7,"w":1.38,"x":955,"y":920},{"g":7,"w":1.38,"x":1010,"y":910},{"g":7,"w":1.38,"x":1070,"y":885},{"g":7,"w":1.38,"x":1120,"y":835},{"g":7,"w":1.38,"x":1150,"y":785},{"g":7,"w":1.38,"x":1163,"y":725},{"g":7,"w":1.38,"x":1155,"y":665},{"g":7,"w":1.38,"x":1130,"y":600},{"g":7,"w":1.38,"x":1080,"y":540},{"g":7,"w":1.38,"x":1030,"y":500},{"g":7,"w":1.38,"x":970,"y":465},
{"g":44,"w":1.415,"x":974,"y":468},{"g":44,"w":1.415,"x":944,"y":545},{"g":44,"w":1.415,"x":921,"y":647},{"g":44,"w":1.415,"x":911,"y":745},{"g":44,"w":1.415,"x":923,"y":845},{"g":44,"w":1.415,"x":950,"y":919},{"g":44,"w":1.415,"x":1010,"y":910},{"g":44,"w":1.415,"x":1070,"y":885},{"g":44,"w":1.415,"x":1120,"y":835},{"g":44,"w":1.415,"x":1150,"y":785},{"g":44,"w":1.415,"x":1163,"y":725},{"g":44,"w":1.415,"x":1155,"y":665},{"g":44,"w":1.415,"x":1130,"y":600},{"g":44,"w":1.415,"x":1080,"y":540},{"g":44,"w":1.415,"x":1030,"y":500},
{"g":8,"w":1.45,"x":990,"y":476},{"g":8,"w":1.45,"x":958,"y":550},{"g":8,"w":1.45,"x":935,"y":650},{"g":8,"w":1.45,"x":925,"y":745},{"g":8,"w":1.45,"x":938,"y":845},{"g":8,"w":1.45,"x":965,"y":919},{"g":8,"w":1.45,"x":1010,"y":910},{"g":8,"w":1.45,"x":1070,"y":885},{"g":8,"w":1.45,"x":1120,"y":835},{"g":8,"w":1.45,"x":1150,"y":785},{"g":8,"w":1.45,"x":1163,"y":725},{"g":8,"w":1.45,"x":1155,"y":665},{"g":8,"w":1.45,"x":1130,"y":600},{"g":8,"w":1.45,"x":1080,"y":540},{"g":8,"w":1.45,"x":1030,"y":500},
{"g":45,"w":1.475,"x":1005,"y":485},{"g":45,"w":1.475,"x":971,"y":557},{"g":45,"w":1.475,"x":950,"y":655},{"g":45,"w":1.475,"x":941,"y":750},{"g":45,"w":1.475,"x":954,"y":845},{"g":45,"w":1.475,"x":980,"y":916},{"g":45,"w":1.475,"x":1010,"y":910},{"g":45,"w":1.475,"x":1070,"y":885},{"g":45,"w":1.475,"x":1120,"y":835},{"g":45,"w":1.475,"x":1150,"y":785},{"g":45,"w":1.475,"x":1163,"y":725},{"g":45,"w":1.475,"x":1155,"y":665},{"g":45,"w":1.475,"x":1130,"y":600},{"g":45,"w":1.475,"x":1080,"y":540},{"g":45,"w":1.475,"x":1030,"y":500},
{"g":9,"w":1.5,"x":1020,"y":494},{"g":9,"w":1.5,"x":985,"y":565},{"g":9,"w":1.5,"x":965,"y":660},{"g":9,"w":1.5,"x":958,"y":755},{"g":9,"w":1.5,"x":970,"y":845},{"g":9,"w":1.5,"x":995,"y":913},{"g":9,"w":1.5,"x":1010,"y":910},{"g":9,"w":1.5,"x":1070,"y":885},{"g":9,"w":1.5,"x":1120,"y":835},{"g":9,"w":1.5,"x":1150,"y":785},{"g":9,"w":1.5,"x":1163,"y":725},{"g":9,"w":1.5,"x":1155,"y":665},{"g":9,"w":1.5,"x":1130,"y":600},{"g":9,"w":1.5,"x":1080,"y":540},{"g":9,"w":1.5,"x":1030,"y":500},
{"g":46,"w":1.525,"x":1035,"y":505},{"g":46,"w":1.525,"x":1000,"y":575},{"g":46,"w":1.525,"x":980,"y":667},{"g":46,"w":1.525,"x":974,"y":760},{"g":46,"w":1.525,"x":987,"y":845},{"g":46,"w":1.525,"x":1010,"y":910},{"g":46,"w":1.525,"x":1070,"y":885},{"g":46,"w":1.525,"x":1120,"y":835},{"g":46,"w":1.525,"x":1150,"y":785},{"g":46,"w":1.525,"x":1163,"y":725},{"g":46,"w":1.525,"x":1155,"y":665},{"g":46,"w":1.525,"x":1130,"y":600},{"g":46,"w":1.525,"x":1080,"y":540},
{"g":10,"w":1.55,"x":1050,"y":516},{"g":10,"w":1.55,"x":1015,"y":585},{"g":10,"w":1.55,"x":995,"y":675},{"g":10,"w":1.55,"x":990,"y":765},{"g":10,"w":1.55,"x":1005,"y":845},{"g":10,"w":1.55,"x":1025,"y":904},{"g":10,"w":1.55,"x":1070,"y":885},{"g":10,"w":1.55,"x":1120,"y":835},{"g":10,"w":1.55,"x":1150,"y":785},{"g":10,"w":1.55,"x":1163,"y":725},{"g":10,"w":1.55,"x":1155,"y":665},{"g":10,"w":1.55,"x":1130,"y":600},{"g":10,"w":1.55,"x":1080,"y":540},
{"g":47,"w":1.58,"x":1067,"y":531},{"g":47,"w":1.58,"x":1032,"y":595},{"g":47,"w":1.58,"x":1015,"y":685},{"g":47,"w":1.58,"x":1012,"y":770},{"g":47,"w":1.58,"x":1027,"y":850},{"g":47,"w":1.58,"x":1047,"y":895},{"g":47,"w":1.58,"x":1070,"y":885},{"g":47,"w":1.58,"x":1120,"y":835},{"g":47,"w":1.58,"x":1150,"y":785},{"g":47,"w":1.58,"x":1163,"y":725},{"g":47,"w":1.58,"x":1155,"y":665},{"g":47,"w":1.58,"x":1130,"y":600},{"g":47,"w":1.58,"x":1080,"y":540},
{"g":11,"w":1.6,"x":1085,"y":546},{"g":11,"w":1.6,"x":1050,"y":605},{"g":11,"w":1.6,"x":1035,"y":695},{"g":11,"w":1.6,"x":1035,"y":775},{"g":11,"w":1.6,"x":1050,"y":855},{"g":11,"w":1.6,"x":1068,"y":886},{"g":11,"w":1.6,"x":1120,"y":835},{"g":11,"w":1.6,"x":1150,"y":785},{"g":11,"w":1.6,"x":1163,"y":725},{"g":11,"w":1.6,"x":1155,"y":665},{"g":11,"w":1.6,"x":1130,"y":600},
{"g":12,"w":1.65,"x":1115,"y":582},{"g":12,"w":1.65,"x":1085,"y":645},{"g":12,"w":1.65,"x":1070,"y":715},{"g":12,"w":1.65,"x":1070,"y":785},{"g":12,"w":1.65,"x":1097,"y":858},{"g":12,"w":1.65,"x":1120,"y":835},{"g":12,"w":1.65,"x":1150,"y":785},{"g":12,"w":1.65,"x":1163,"y":725},{"g":12,"w":1.65,"x":1155,"y":665},{"g":12,"w":1.65,"x":1130,"y":600},
{"g":13,"w":1.7,"x":1143,"y":630},{"g":13,"w":1.7,"x":1125,"y":675},{"g":13,"w":1.7,"x":1115,"y":735},{"g":13,"w":1.7,"x":1120,"y":795},{"g":13,"w":1.7,"x":1136,"y":812},{"g":13,"w":1.7,"x":1150,"y":785},{"g":13,"w":1.7,"x":1163,"y":725},{"g":13,"w":1.7,"x":1155,"y":665},
{"g":14,"w":1.08,"x":545,"y":685},{"g":14,"w":1.08,"x":565,"y":600},{"g":14,"w":1.08,"x":585,"y":520},{"g":14,"w":1.08,"x":620,"y":445},{"g":14,"w":1.08,"x":665,"y":378},{"g":14,"w":1.08,"x":620,"y":380},{"g":14,"w":1.08,"x":580,"y":395},{"g":14,"w":1.08,"x":540,"y":425},{"g":14,"w":1.08,"x":510,"y":465},{"g":14,"w":1.08,"x":490,"y":515},{"g":14,"w":1.08,"x":485,"y":555},{"g":14,"w":1.08,"x":488,"y":585},{"g":14,"w":1.08,"x":500,"y":615},{"g":14,"w":1.08,"x":530,"y":665},
{"g":15,"w":1.14,"x":530,"y":665},{"g":15,"w":1.14,"x":550,"y":590},{"g":15,"w":1.14,"x":568,"y":515},{"g":15,"w":1.14,"x":600,"y":445},{"g":15,"w":1.14,"x":640,"y":378},{"g":15,"w":1.14,"x":620,"y":380},{"g":15,"w":1.14,"x":580,"y":395},{"g":15,"w":1.14,"x":540,"y":425},{"g":15,"w":1.14,"x":510,"y":465},{"g":15,"w":1.14,"x":490,"y":515},{"g":15,"w":1.14,"x":485,"y":555},{"g":15,"w":1.14,"x":488,"y":585},{"g":15,"w":1.14,"x":500,"y":615},
{"g":16,"w":1.2,"x":518,"y":650},{"g":16,"w":1.2,"x":535,"y":580},{"g":16,"w":1.2,"x":550,"y":515},{"g":16,"w":1.2,"x":580,"y":450},{"g":16,"w":1.2,"x":620,"y":380},{"g":16,"w":1.2,"x":580,"y":395},{"g":16,"w":1.2,"x":540,"y":425},{"g":16,"w":1.2,"x":510,"y":465},{"g":16,"w":1.2,"x":490,"y":515},{"g":16,"w":1.2,"x":485,"y":555},{"g":16,"w":1.2,"x":488,"y":585},{"g":16,"w":1.2,"x":500,"y":615},
{"g":17,"w":1.26,"x":508,"y":635},{"g":17,"w":1.26,"x":520,"y":570},{"g":17,"w":1.26,"x":535,"y":515},{"g":17,"w":1.26,"x":560,"y":455},{"g":17,"w":1.26,"x":600,"y":387},{"g":17,"w":1.26,"x":580,"y":395},{"g":17,"w":1.26,"x":540,"y":425},{"g":17,"w":1.26,"x":510,"y":465},{"g":17,"w":1.26,"x":490,"y":515},{"g":17,"w":1.26,"x":485,"y":555},{"g":17,"w":1.26,"x":488,"y":585},{"g":17,"w":1.26,"x":500,"y":615},
{"g":18,"w":1.32,"x":502,"y":620},{"g":18,"w":1.32,"x":508,"y":565},{"g":18,"w":1.32,"x":520,"y":515},{"g":18,"w":1.32,"x":545,"y":460},{"g":18,"w":1.32,"x":585,"y":393},{"g":18,"w":1.32,"x":540,"y":425},{"g":18,"w":1.32,"x":510,"y":465},{"g":18,"w":1.32,"x":490,"y":515},{"g":18,"w":1.32,"x":485,"y":555},{"g":18,"w":1.32,"x":488,"y":585},
{"g":19,"w":1.38,"x":495,"y":607},{"g":19,"w":1.38,"x":500,"y":560},{"g":19,"w":1.38,"x":510,"y":515},{"g":19,"w":1.38,"x":532,"y":465},{"g":19,"w":1.38,"x":565,"y":405},{"g":19,"w":1.38,"x":540,"y":425},{"g":19,"w":1.38,"x":510,"y":465},{"g":19,"w":1.38,"x":490,"y":515},{"g":19,"w":1.38,"x":485,"y":555},{"g":19,"w":1.38,"x":488,"y":585},
{"g":20,"w":1.45,"x":490,"y":590},{"g":20,"w":1.45,"x":492,"y":555},{"g":20,"w":1.45,"x":500,"y":510},{"g":20,"w":1.45,"x":520,"y":465},{"g":20,"w":1.45,"x":542,"y":425},{"g":20,"w":1.45,"x":510,"y":465},{"g":20,"w":1.45,"x":490,"y":515},{"g":20,"w":1.45,"x":485,"y":555},
{"g":21,"w":1.52,"x":487,"y":570},{"g":21,"w":1.52,"x":493,"y":540},{"g":21,"w":1.52,"x":503,"y":505},{"g":21,"w":1.52,"x":525,"y":445},{"g":21,"w":1.52,"x":510,"y":465},{"g":21,"w":1.52,"x":490,"y":515},{"g":21,"w":1.52,"x":485,"y":555},
{"g":22,"w":0.96,"x":578,"y":722},{"g":22,"w":0.96,"x":582,"y":665},{"g":22,"w":0.96,"x":600,"y":595},{"g":22,"w":0.96,"x":632,"y":520},{"g":22,"w":0.96,"x":695,"y":445},{"g":22,"w":0.96,"x":750,"y":425},{"g":22,"w":0.96,"x":800,"y":445},{"g":22,"w":0.96,"x":815,"y":530},{"g":22,"w":0.96,"x":812,"y":625},{"g":22,"w":0.96,"x":805,"y":715},{"g":22,"w":0.96,"x":795,"y":795},{"g":22,"w":0.96,"x":785,"y":832},{"g":22,"w":0.96,"x":740,"y":805},{"g":22,"w":0.96,"x":680,"y":785},{"g":22,"w":0.96,"x":620,"y":755},
{"g":23,"w":0.9,"x":597,"y":742},{"g":23,"w":0.9,"x":592,"y":665},{"g":23,"w":0.9,"x":612,"y":600},{"g":23,"w":0.9,"x":648,"y":525},{"g":23,"w":0.9,"x":705,"y":470},{"g":23,"w":0.9,"x":755,"y":450},{"g":23,"w":0.9,"x":790,"y":475},{"g":23,"w":0.9,"x":800,"y":540},{"g":23,"w":0.9,"x":798,"y":630},{"g":23,"w":0.9,"x":790,"y":710},{"g":23,"w":0.9,"x":780,"y":785},{"g":23,"w":0.9,"x":770,"y":822},{"g":23,"w":0.9,"x":740,"y":805},{"g":23,"w":0.9,"x":680,"y":785},{"g":23,"w":0.9,"x":640,"y":768},
{"g":24,"w":0.85,"x":615,"y":752},{"g":24,"w":0.85,"x":603,"y":665},{"g":24,"w":0.85,"x":625,"y":600},{"g":24,"w":0.85,"x":665,"y":530},{"g":24,"w":0.85,"x":715,"y":490},{"g":24,"w":0.85,"x":760,"y":475},{"g":24,"w":0.85,"x":782,"y":505},{"g":24,"w":0.85,"x":790,"y":560},{"g":24,"w":0.85,"x":785,"y":640},{"g":24,"w":0.85,"x":778,"y":710},{"g":24,"w":0.85,"x":765,"y":775},{"g":24,"w":0.85,"x":755,"y":813},{"g":24,"w":0.85,"x":740,"y":805},{"g":24,"w":0.85,"x":680,"y":785},{"g":24,"w":0.85,"x":650,"y":771},
{"g":25,"w":0.8,"x":640,"y":767},{"g":25,"w":0.8,"x":612,"y":665},{"g":25,"w":0.8,"x":637,"y":600},{"g":25,"w":0.8,"x":682,"y":530},{"g":25,"w":0.8,"x":725,"y":505},{"g":25,"w":0.8,"x":760,"y":500},{"g":25,"w":0.8,"x":775,"y":530},{"g":25,"w":0.8,"x":778,"y":590},{"g":25,"w":0.8,"x":775,"y":650},{"g":25,"w":0.8,"x":768,"y":710},{"g":25,"w":0.8,"x":755,"y":770},{"g":25,"w":0.8,"x":740,"y":805},{"g":25,"w":0.8,"x":680,"y":785},
{"g":26,"w":0.75,"x":665,"y":780},{"g":26,"w":0.75,"x":622,"y":665},{"g":26,"w":0.75,"x":650,"y":605},{"g":26,"w":0.75,"x":690,"y":545},{"g":26,"w":0.75,"x":730,"y":525},{"g":26,"w":0.75,"x":755,"y":525},{"g":26,"w":0.75,"x":768,"y":560},{"g":26,"w":0.75,"x":772,"y":630},{"g":26,"w":0.75,"x":768,"y":690},{"g":26,"w":0.75,"x":752,"y":760},{"g":26,"w":0.75,"x":720,"y":797},
{"g":27,"w":0.7,"x":640,"y":715},{"g":27,"w":0.7,"x":630,"y":665},{"g":27,"w":0.7,"x":658,"y":610},{"g":27,"w":0.7,"x":695,"y":560},{"g":27,"w":0.7,"x":730,"y":545},{"g":27,"w":0.7,"x":755,"y":550},{"g":27,"w":0.7,"x":765,"y":590},{"g":27,"w":0.7,"x":768,"y":650},{"g":27,"w":0.7,"x":762,"y":710},{"g":27,"w":0.7,"x":748,"y":760},{"g":27,"w":0.7,"x":715,"y":785},{"g":27,"w":0.7,"x":675,"y":765},
{"g":28,"w":0.65,"x":650,"y":700},{"g":28,"w":0.65,"x":640,"y":660},{"g":28,"w":0.65,"x":665,"y":615},{"g":28,"w":0.65,"x":700,"y":575},{"g":28,"w":0.65,"x":732,"y":565},{"g":28,"w":0.65,"x":752,"y":575},{"g":28,"w":0.65,"x":762,"y":610},{"g":28,"w":0.65,"x":765,"y":660},{"g":28,"w":0.65,"x":758,"y":715},{"g":28,"w":0.65,"x":742,"y":755},{"g":28,"w":0.65,"x":712,"y":770},{"g":28,"w":0.65,"x":675,"y":745},
{"g":29,"w":0.6,"x":660,"y":695},{"g":29,"w":0.6,"x":650,"y":655},{"g":29,"w":0.6,"x":675,"y":620},{"g":29,"w":0.6,"x":705,"y":590},{"g":29,"w":0.6,"x":733,"y":582},{"g":29,"w":0.6,"x":750,"y":595},{"g":29,"w":0.6,"x":760,"y":625},{"g":29,"w":0.6,"x":762,"y":665},{"g":29,"w":0.6,"x":755,"y":715},{"g":29,"w":0.6,"x":738,"y":745},{"g":29,"w":0.6,"x":708,"y":750},{"g":29,"w":0.6,"x":680,"y":730},
{"g":30,"w":0.55,"x":668,"y":690},{"g":30,"w":0.55,"x":662,"y":655},{"g":30,"w":0.55,"x":685,"y":625},{"g":30,"w":0.55,"x":710,"y":603},{"g":30,"w":0.55,"x":733,"y":597},{"g":30,"w":0.55,"x":748,"y":610},{"g":30,"w":0.55,"x":757,"y":640},{"g":30,"w":0.55,"x":760,"y":670},{"g":30,"w":0.55,"x":752,"y":715},{"g":30,"w":0.55,"x":735,"y":735},{"g":30,"w":0.55,"x":708,"y":735},{"g":30,"w":0.55,"x":685,"y":720},
{"g":31,"w":0.5,"x":678,"y":680},{"g":31,"w":0.5,"x":672,"y":650},{"g":31,"w":0.5,"x":695,"y":628},{"g":31,"w":0.5,"x":715,"y":615},{"g":31,"w":0.5,"x":733,"y":612},{"g":31,"w":0.5,"x":746,"y":625},{"g":31,"w":0.5,"x":755,"y":650},{"g":31,"w":0.5,"x":757,"y":675},{"g":31,"w":0.5,"x":750,"y":710},{"g":31,"w":0.5,"x":732,"y":722},{"g":31,"w":0.5,"x":708,"y":718},{"g":31,"w":0.5,"x":690,"y":705},
{"g":32,"w":0.44,"x":690,"y":670},{"g":32,"w":0.44,"x":690,"y":645},{"g":32,"w":0.44,"x":710,"y":630},{"g":32,"w":0.44,"x":730,"y":625},{"g":32,"w":0.44,"x":745,"y":640},{"g":32,"w":0.44,"x":752,"y":660},{"g":32,"w":0.44,"x":754,"y":680},{"g":32,"w":0.44,"x":747,"y":705},{"g":32,"w":0.44,"x":730,"y":712},{"g":32,"w":0.44,"x":710,"y":700},
{"g":33,"w":0.38,"x":705,"y":665},{"g":33,"w":0.38,"x":708,"y":645},{"g":33,"w":0.38,"x":725,"y":638},{"g":33,"w":0.38,"x":740,"y":650},{"g":33,"w":0.38,"x":748,"y":670},{"g":33,"w":0.38,"x":748,"y":695},{"g":33,"w":0.38,"x":735,"y":702},{"g":33,"w":0.38,"x":718,"y":690},
{"g":34,"w":0.33,"x":730,"y":665},{"g":34,"w":0.33,"x":742,"y":660},{"g":34,"w":0.33,"x":748,"y":680},{"g":34,"w":0.33,"x":745,"y":697},{"g":34,"w":0.33,"x":733,"y":690}],
"shade2":[
{"g":1,"x":490,"y":515},{"g":1,"x":510,"y":465},{"g":1,"x":540,"y":425},{"g":1,"x":580,"y":395},{"g":1,"x":620,"y":380},{"g":1,"x":655,"y":377},{"g":1,"x":695,"y":383},{"g":1,"x":735,"y":395},{"g":1,"x":775,"y":412},{"g":1,"x":830,"y":430},{"g":1,"x":900,"y":440},{"g":1,"x":970,"y":465},{"g":1,"x":1030,"y":500},{"g":1,"x":1080,"y":540},{"g":1,"x":1130,"y":600},{"g":1,"x":1155,"y":665},{"g":1,"x":1135,"y":630},{"g":1,"x":1085,"y":590},{"g":1,"x":1030,"y":555},{"g":1,"x":975,"y":530},{"g":1,"x":930,"y":520},{"g":1,"x":880,"y":515},{"g":1,"x":810,"y":510},{"g":1,"x":750,"y":500},{"g":1,"x":710,"y":485},{"g":1,"x":680,"y":472},{"g":1,"x":655,"y":467},{"g":1,"x":640,"y":470},{"g":1,"x":625,"y":480},{"g":1,"x":605,"y":500},{"g":1,"x":570,"y":515},{"g":1,"x":530,"y":520},
{"g":2,"x":490,"y":515},{"g":2,"x":510,"y":465},{"g":2,"x":540,"y":425},{"g":2,"x":580,"y":395},{"g":2,"x":620,"y":380},{"g":2,"x":655,"y":377},{"g":2,"x":695,"y":383},{"g":2,"x":735,"y":395},{"g":2,"x":775,"y":412},{"g":2,"x":830,"y":430},{"g":2,"x":900,"y":440},{"g":2,"x":970,"y":465},{"g":2,"x":1030,"y":500},{"g":2,"x":1080,"y":540},{"g":2,"x":1130,"y":600},{"g":2,"x":1155,"y":665},{"g":2,"x":1140,"y":620},{"g":2,"x":1095,"y":575},{"g":2,"x":1045,"y":540},{"g":2,"x":1000,"y":520},{"g":2,"x":948,"y":497},{"g":2,"x":888,"y":480},{"g":2,"x":818,"y":470},{"g":2,"x":760,"y":460},{"g":2,"x":722,"y":450},{"g":2,"x":688,"y":438},{"g":2,"x":655,"y":432},{"g":2,"x":630,"y":435},{"g":2,"x":605,"y":447},{"g":2,"x":580,"y":470},{"g":2,"x":545,"y":490},{"g":2,"x":510,"y":510},
{"g":3,"x":490,"y":515},{"g":3,"x":510,"y":465},{"g":3,"x":540,"y":425},{"g":3,"x":580,"y":395},{"g":3,"x":620,"y":380},{"g":3,"x":655,"y":377},{"g":3,"x":695,"y":383},{"g":3,"x":735,"y":395},{"g":3,"x":775,"y":412},{"g":3,"x":830,"y":430},{"g":3,"x":900,"y":440},{"g":3,"x":970,"y":465},{"g":3,"x":1030,"y":500},{"g":3,"x":1080,"y":540},{"g":3,"x":1130,"y":600},{"g":3,"x":1155,"y":665},{"g":3,"x":1145,"y":630},{"g":3,"x":1110,"y":590},{"g":3,"x":1065,"y":548},{"g":3,"x":1017,"y":510},{"g":3,"x":960,"y":480},{"g":3,"x":895,"y":458},{"g":3,"x":825,"y":448},{"g":3,"x":770,"y":432},{"g":3,"x":730,"y":420},{"g":3,"x":692,"y":408},{"g":3,"x":655,"y":402},{"g":3,"x":625,"y":405},{"g":3,"x":590,"y":420},{"g":3,"x":560,"y":445},{"g":3,"x":530,"y":470},{"g":3,"x":505,"y":505}]
},
"resolve":{"scale":{"x":"independent","y":"independent","color":"independent"}},
"layer":[
{"encoding":{"x":{"field":"x","type":"quantitative","axis":null,"scale":{"domain":[0,4986],"nice":false,"zero":false}},"y":{"field":"y","type":"quantitative","axis":null,"scale":{"domain":[2163,-840],"nice":false,"zero":false}}},"layer":[
{"data":{"name":"wall1"},"mark":{"type":"line","filled":true,"color":"#ebebeb","interpolate":"linear-closed"},"encoding":{"order":{"value":null}}},
{"data":{"name":"grid1"},"mark":{"type":"rule","color":"white","strokeWidth":2.2},"encoding":{"x2":{"field":"x2"},"y2":{"field":"y2"}}},
{"data":{"name":"edge1"},"mark":{"type":"rule","color":"#bdbdbd","strokeWidth":1.2},"encoding":{"x2":{"field":"x2"},"y2":{"field":"y2"}}},
{"data":{"name":"torus"},"transform":[{"filter":"datum.g<16"}],"mark":{"type":"line","filled":true,"interpolate":"linear-closed"},"encoding":{"detail":{"field":"g"},"order":{"value":null},"color":{"field":"w","type":"quantitative","legend":null,"scale":{"domain":[0.5,0.59375,0.6875,0.78125,0.875,0.96875,1.0625,1.15625,1.25],"range":["#00007f","#0000ff","#007fff","#00ffff","#7fff7f","#ffff00","#ff7f00","#ff0000","#7f0000"]}}}},
{"data":{"name":"torus"},"transform":[{"filter":"datum.g>=16"}],"mark":{"type":"line","filled":true,"interpolate":"cardinal-closed"},"encoding":{"detail":{"field":"g"},"order":{"value":null},"color":{"field":"w","type":"quantitative","legend":null}}},
{"data":{"name":"shade1"},"mark":{"type":"line","filled":true,"color":"black","opacity":0.15,"interpolate":"linear-closed"},"encoding":{"detail":{"field":"g"},"order":{"value":null}}},
{"data":{"name":"bar1"},"mark":{"type":"rect"},"encoding":{"x2":{"field":"x2"},"y2":{"field":"y2"},"color":{"field":"w","type":"quantitative","legend":null}}},
{"data":{"name":"ink1"},"mark":{"type":"rule","color":"black","strokeWidth":1.2},"encoding":{"x2":{"field":"x2"},"y2":{"field":"y2"}}},
{"data":{"name":"head1"},"mark":{"type":"line","filled":true,"color":"black","interpolate":"linear-closed"},"encoding":{"detail":{"field":"g"},"order":{"value":null}}},
{"data":{"name":"lab1"},"mark":{"type":"text","font":"Liberation Sans","fontSize":19.5,"color":"#111111","baseline":"middle","align":"center"},"encoding":{"text":{"field":"t"},"angle":{"field":"a","type":"quantitative","scale":null}}},
{"data":{"name":"step1"},"mark":{"type":"text","font":"Liberation Sans","fontSize":21,"color":"#111111","baseline":"middle","align":"center"},"encoding":{"text":{"field":"t"}}},
{"data":{"name":"arrow1"},"mark":{"type":"text","font":"DejaVu Sans","fontSize":24,"color":"#111111","baseline":"middle","align":"center"},"encoding":{"text":{"field":"t"}}},
{"data":{"name":"wlab1"},"mark":{"type":"text","font":"Liberation Serif","fontSize":23,"color":"#111111","baseline":"middle","align":"center"},"encoding":{"text":{"field":"t"}}},
{"data":{"values":[{"t":"Pure dipole","x":828,"y":-786},{"t":"(first and second step)","x":828,"y":-684}]},"mark":{"type":"text","font":"Lato","fontSize":26,"color":"#111111","baseline":"middle","align":"center"},"encoding":{"text":{"field":"t"}}}
]},
{"encoding":{"x":{"field":"x","type":"quantitative","axis":null,"scale":{"domain":[-1560,3426],"nice":false,"zero":false}},"y":{"field":"y","type":"quantitative","axis":null,"scale":{"domain":[2763,-240],"nice":false,"zero":false}}},"layer":[
{"data":{"name":"wall2"},"mark":{"type":"line","filled":true,"color":"#ebebeb","interpolate":"linear-closed"},"encoding":{"order":{"value":null}}},
{"data":{"name":"grid2"},"mark":{"type":"rule","color":"white","strokeWidth":2.2},"encoding":{"x2":{"field":"x2"},"y2":{"field":"y2"}}},
{"data":{"name":"edge2"},"mark":{"type":"rule","color":"#bdbdbd","strokeWidth":1.2},"encoding":{"x2":{"field":"x2"},"y2":{"field":"y2"}}},
{"data":{"name":"peanut"},"transform":[{"filter":"datum.g<27 || datum.g>34"}],"mark":{"type":"line","filled":true,"interpolate":"linear-closed"},"encoding":{"detail":{"field":"g"},"order":{"value":null},"color":{"field":"w","type":"quantitative","legend":null,"scale":{"domain":[0.25,0.4375,0.625,0.8125,1.0,1.1875,1.375,1.5625,1.75],"range":["#00007f","#0000ff","#007fff","#00ffff","#7fff7f","#ffff00","#ff7f00","#ff0000","#7f0000"]}}}},
{"data":{"name":"peanut"},"transform":[{"filter":"datum.g>=27 && datum.g<=34"}],"mark":{"type":"line","filled":true,"interpolate":"cardinal-closed"},"encoding":{"detail":{"field":"g"},"order":{"value":null},"color":{"field":"w","type":"quantitative","legend":null}}},
{"data":{"name":"shade2"},"mark":{"type":"line","filled":true,"color":"black","opacity":0.1,"interpolate":"linear-closed"},"encoding":{"detail":{"field":"g"},"order":{"value":null}}},
{"data":{"name":"bar2"},"mark":{"type":"rect"},"encoding":{"x2":{"field":"x2"},"y2":{"field":"y2"},"color":{"field":"w","type":"quantitative","legend":null}}},
{"data":{"name":"ink2"},"mark":{"type":"rule","color":"black","strokeWidth":1.2},"encoding":{"x2":{"field":"x2"},"y2":{"field":"y2"}}},
{"data":{"name":"head2"},"mark":{"type":"line","filled":true,"color":"black","interpolate":"linear-closed"},"encoding":{"detail":{"field":"g"},"order":{"value":null}}},
{"data":{"name":"lab2"},"mark":{"type":"text","font":"Liberation Sans","fontSize":19.5,"color":"#111111","baseline":"middle","align":"center"},"encoding":{"text":{"field":"t"},"angle":{"field":"a","type":"quantitative","scale":null}}},
{"data":{"name":"step2"},"mark":{"type":"text","font":"Liberation Sans","fontSize":21,"color":"#111111","baseline":"middle","align":"center"},"encoding":{"text":{"field":"t"}}},
{"data":{"name":"arrow2"},"mark":{"type":"text","font":"DejaVu Sans","fontSize":24,"color":"#111111","baseline":"middle","align":"center"},"encoding":{"text":{"field":"t"}}},
{"data":{"values":[{"t":"W(θ, ϕ)","x":1565,"y":245}]},"mark":{"type":"text","font":"Liberation Serif","fontSize":23,"color":"#111111","baseline":"middle","align":"center"},"encoding":{"text":{"field":"t"}}},
{"data":{"values":[{"t":"δ₁=δ₂=+1","x":220,"y":205}]},"mark":{"type":"text","font":"Liberation Serif","fontSize":27,"color":"#111111","baseline":"middle","align":"center"},"encoding":{"text":{"field":"t"}}},
{"data":{"values":[{"t":"Equal mixture of dipole and quadrupole","x":829,"y":-186},{"t":"(first and second step)","x":821,"y":-84}]},"mark":{"type":"text","font":"Lato","fontSize":26.5,"color":"#111111","baseline":"middle","align":"center"},"encoding":{"text":{"field":"t"}}}
]},
{"encoding":{"x":{"field":"x","type":"quantitative","axis":null,"scale":{"domain":[-1556.8,3429.2],"nice":false,"zero":false}},"y":{"field":"y","type":"quantitative","axis":null,"scale":{"domain":[1336,-1667],"nice":false,"zero":false}}},"layer":[
{"data":{"name":"wall2"},"mark":{"type":"line","filled":true,"color":"#ebebeb","interpolate":"linear-closed"},"encoding":{"order":{"value":null}}},
{"data":{"name":"grid2"},"mark":{"type":"rule","color":"white","strokeWidth":2.2},"encoding":{"x2":{"field":"x2"},"y2":{"field":"y2"}}},
{"data":{"name":"edge2"},"mark":{"type":"rule","color":"#bdbdbd","strokeWidth":1.2},"encoding":{"x2":{"field":"x2"},"y2":{"field":"y2"}}},
{"data":{"name":"peanut"},"transform":[{"filter":"datum.g<27 || datum.g>34"}],"mark":{"type":"line","filled":true,"interpolate":"linear-closed"},"encoding":{"detail":{"field":"g"},"order":{"value":null},"color":{"field":"w","type":"quantitative","legend":null,"scale":{"domain":[0.25,0.4375,0.625,0.8125,1.0,1.1875,1.375,1.5625,1.75],"range":["#00007f","#0000ff","#007fff","#00ffff","#7fff7f","#ffff00","#ff7f00","#ff0000","#7f0000"]}}}},
{"data":{"name":"peanut"},"transform":[{"filter":"datum.g>=27 && datum.g<=34"}],"mark":{"type":"line","filled":true,"interpolate":"cardinal-closed"},"encoding":{"detail":{"field":"g"},"order":{"value":null},"color":{"field":"w","type":"quantitative","legend":null}}},
{"data":{"name":"shade2"},"mark":{"type":"line","filled":true,"color":"black","opacity":0.1,"interpolate":"linear-closed"},"encoding":{"detail":{"field":"g"},"order":{"value":null}}},
{"data":{"name":"bar2"},"mark":{"type":"rect"},"encoding":{"x2":{"field":"x2"},"y2":{"field":"y2"},"color":{"field":"w","type":"quantitative","legend":null}}},
{"data":{"name":"ink2"},"mark":{"type":"rule","color":"black","strokeWidth":1.2},"encoding":{"x2":{"field":"x2"},"y2":{"field":"y2"}}},
{"data":{"name":"head2"},"mark":{"type":"line","filled":true,"color":"black","interpolate":"linear-closed"},"encoding":{"detail":{"field":"g"},"order":{"value":null}}},
{"data":{"name":"lab2"},"mark":{"type":"text","font":"Liberation Sans","fontSize":19.5,"color":"#111111","baseline":"middle","align":"center"},"encoding":{"text":{"field":"t"},"angle":{"field":"a","type":"quantitative","scale":null}}},
{"data":{"name":"step2"},"mark":{"type":"text","font":"Liberation Sans","fontSize":21,"color":"#111111","baseline":"middle","align":"center"},"encoding":{"text":{"field":"t"}}},
{"data":{"name":"arrow2"},"mark":{"type":"text","font":"DejaVu Sans","fontSize":24,"color":"#111111","baseline":"middle","align":"center"},"encoding":{"text":{"field":"t"}}},
{"data":{"values":[{"t":"W(θ, ϕ)","x":1562,"y":245}]},"mark":{"type":"text","font":"Liberation Serif","fontSize":23,"color":"#111111","baseline":"middle","align":"center"},"encoding":{"text":{"field":"t"}}},
{"data":{"values":[{"t":"δ₁=δ₂=−1","x":255,"y":205}]},"mark":{"type":"text","font":"Liberation Serif","fontSize":27,"color":"#111111","baseline":"middle","align":"center"},"encoding":{"text":{"field":"t"}}}
]},
{"encoding":{"x":{"field":"x","type":"quantitative","axis":null,"scale":{"domain":[-3461,1525],"nice":false,"zero":false}},"y":{"field":"y","type":"quantitative","axis":null,"scale":{"domain":[2154,-849],"nice":false,"zero":false}}},"layer":[
{"data":{"name":"wall1"},"mark":{"type":"line","filled":true,"color":"#ebebeb","interpolate":"linear-closed"},"encoding":{"order":{"value":null}}},
{"data":{"name":"grid1"},"mark":{"type":"rule","color":"white","strokeWidth":2.2},"encoding":{"x2":{"field":"x2"},"y2":{"field":"y2"}}},
{"data":{"name":"edge1"},"mark":{"type":"rule","color":"#bdbdbd","strokeWidth":1.2},"encoding":{"x2":{"field":"x2"},"y2":{"field":"y2"}}},
{"data":{"name":"torus"},"transform":[{"filter":"datum.g<16"}],"mark":{"type":"line","filled":true,"interpolate":"linear-closed"},"encoding":{"detail":{"field":"g"},"order":{"value":null},"color":{"field":"w","type":"quantitative","legend":null,"scale":{"domain":[0.5,0.59375,0.6875,0.78125,0.875,0.96875,1.0625,1.15625,1.25],"range":["#00007f","#0000ff","#007fff","#00ffff","#7fff7f","#ffff00","#ff7f00","#ff0000","#7f0000"]}}}},
{"data":{"name":"torus"},"transform":[{"filter":"datum.g>=16"}],"mark":{"type":"line","filled":true,"interpolate":"cardinal-closed"},"encoding":{"detail":{"field":"g"},"order":{"value":null},"color":{"field":"w","type":"quantitative","legend":null}}},
{"data":{"name":"shade1"},"mark":{"type":"line","filled":true,"color":"black","opacity":0.15,"interpolate":"linear-closed"},"encoding":{"detail":{"field":"g"},"order":{"value":null}}},
{"data":{"name":"bar1"},"mark":{"type":"rect"},"encoding":{"x2":{"field":"x2"},"y2":{"field":"y2"},"color":{"field":"w","type":"quantitative","legend":null}}},
{"data":{"name":"ink1"},"mark":{"type":"rule","color":"black","strokeWidth":1.2},"encoding":{"x2":{"field":"x2"},"y2":{"field":"y2"}}},
{"data":{"name":"head1"},"mark":{"type":"line","filled":true,"color":"black","interpolate":"linear-closed"},"encoding":{"detail":{"field":"g"},"order":{"value":null}}},
{"data":{"name":"lab1"},"mark":{"type":"text","font":"Liberation Sans","fontSize":19.5,"color":"#111111","baseline":"middle","align":"center"},"encoding":{"text":{"field":"t"},"angle":{"field":"a","type":"quantitative","scale":null}}},
{"data":{"name":"step1"},"mark":{"type":"text","font":"Liberation Sans","fontSize":21,"color":"#111111","baseline":"middle","align":"center"},"encoding":{"text":{"field":"t"}}},
{"data":{"name":"arrow1"},"mark":{"type":"text","font":"DejaVu Sans","fontSize":24,"color":"#111111","baseline":"middle","align":"center"},"encoding":{"text":{"field":"t"}}},
{"data":{"name":"wlab1"},"mark":{"type":"text","font":"Liberation Serif","fontSize":23,"color":"#111111","baseline":"middle","align":"center"},"encoding":{"text":{"field":"t"}}},
{"data":{"values":[{"t":"Pure quadrupole","x":763,"y":-795},{"t":"(first and second step)","x":765,"y":-693}]},"mark":{"type":"text","font":"Lato","fontSize":26,"color":"#111111","baseline":"middle","align":"center"},"encoding":{"text":{"field":"t"}}}
]}
]}
